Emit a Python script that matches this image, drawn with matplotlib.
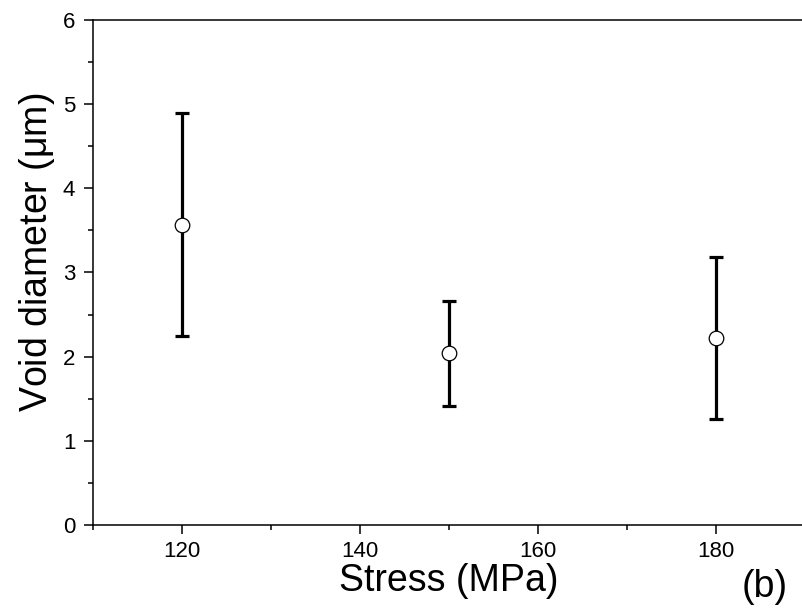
import matplotlib
matplotlib.use('Agg')
import matplotlib.pyplot as plt
from matplotlib.ticker import MultipleLocator

plt.rcParams['font.family'] = ['Liberation Sans', 'DejaVu Sans']
plt.rcParams['mathtext.fontset'] = 'custom'
plt.rcParams['mathtext.rm'] = 'Liberation Sans'

# data
stress = [120, 150, 180]
void_mean = [3.57, 2.04, 2.22]
void_upper = [4.89, 2.66, 3.18]
void_lower = [2.245, 1.41, 1.256]

err_lo = [m - l for m, l in zip(void_mean, void_lower)]
err_hi = [u - m for m, u in zip(void_mean, void_upper)]

fig = plt.figure(figsize=(8.02, 6.13), dpi=100)
ax = fig.add_axes([0.1156, 0.1436, 0.888, 0.8238])

ax.errorbar(stress, void_mean, yerr=[err_lo, err_hi], fmt='none',
            ecolor='black', elinewidth=2.3, capsize=5, capthick=2.3, zorder=2)
ax.plot(stress, void_mean, 'o', ms=10.5, mfc='white', mec='black', mew=0.9, zorder=3)

ax.set_xlim(110, 190)
ax.set_ylim(0, 6)
ax.xaxis.set_major_locator(MultipleLocator(20))
ax.xaxis.set_minor_locator(MultipleLocator(10))
ax.yaxis.set_major_locator(MultipleLocator(1))
ax.yaxis.set_minor_locator(MultipleLocator(0.5))

for s in ax.spines.values():
    s.set_linewidth(1.1)
ax.tick_params(which='major', direction='out', length=6.5, width=1.1, labelsize=16)
ax.tick_params(which='minor', direction='out', length=3.5, width=1.1)
ax.tick_params(axis='x', which='major', pad=5)
ax.tick_params(axis='y', which='major', pad=6)

ax.set_xlabel('Stress (MPa)', fontsize=27, labelpad=1)
ax.set_ylabel('Void diameter ($\\mathregular{\\mu}$m)', fontsize=27)
ax.yaxis.set_label_coords(-0.05, 0.54)
fig.text(0.954, 0.043, '(b)', fontsize=27, ha='center', va='center')

fig.savefig('out.png', dpi=100)
